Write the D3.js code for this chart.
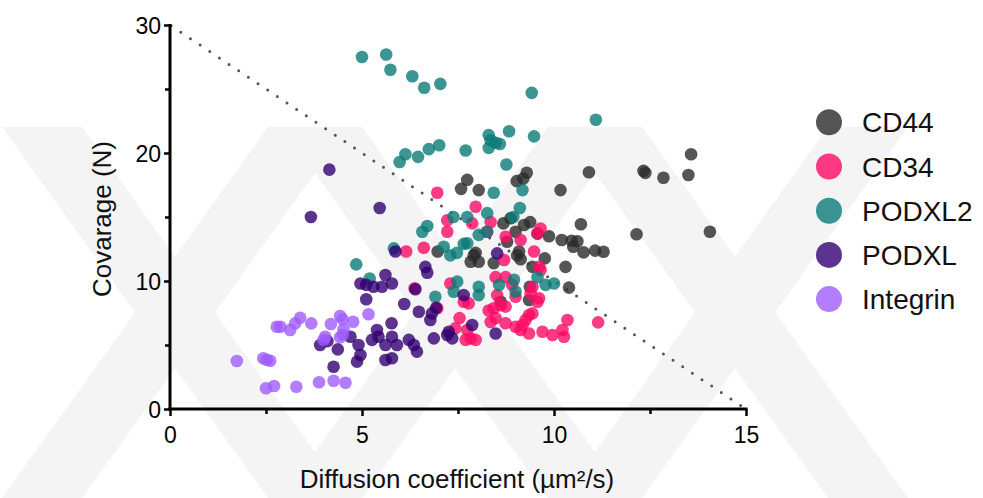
<!DOCTYPE html>
<html>
<head>
<meta charset="utf-8">
<script src="https://cdn.jsdelivr.net/npm/d3@7"></script>
<style>
  html, body { margin: 0; padding: 0; background: #fff; }
  svg { display: block; font-family: Arial, "Liberation Sans", sans-serif; }
</style>
</head>
<body>
<svg id="chart" width="983" height="498"></svg>
<script>
// ---- data ----
var seriesNames = ["CD44", "CD34", "PODXL2", "PODXL", "Integrin"];
var seriesColors = ["#2b2b2b", "#ff0a64", "#0a7b77", "#330072", "#a05cff"];

var cd44 = [[13.57,19.9],[12.33,18.6],[12.38,18.45],[12.85,18.07],[13.5,18.28],[10.91,18.5],[10.17,17.1],
  [9.29,18.46],[9.2,18.0],[9.03,17.8],[7.74,17.9],[7.58,17.2],[8.04,17.1],
  [14.06,13.85],[12.15,13.65],[10.7,14.43],[9.87,13.5],[10.2,13.2],[10.46,13.15],[10.61,13.1],[10.5,12.68],
  [10.77,12.24],[11.07,12.37],[11.29,12.29],[10.3,11.1],[10.39,9.48],[9.76,11.77],
  [9.37,9.55],[9.35,8.52],[8.61,8.38],[9.57,13.7],[9.22,14.37],[8.87,14.9],[8.68,14.5],[9.0,13.85],[8.78,13.07],
  [7.96,12.2],[7.91,12.0],[7.83,11.5],[8.04,11.5],[8.43,11.4],[9.09,12.3],[9.13,11.7],[9.44,11.1],[9.04,12.0],
  [6.97,12.3],[9.38,14.6]];

var cd34 = [[6.96,16.9],[7.96,15.8],[7.22,14.74],[7.22,13.85],[8.35,14.6],[7.87,14.5],[8.26,13.85],[8.74,13.46],
  [9.13,13.2],[9.65,14.1],[9.57,13.72],[9.48,12.3],[8.7,11.64],
  [6.61,12.6],[6.15,12.3],[6.37,9.43],[7.3,9.8],[6.96,7.87],[7.54,7.1],[7.43,6.3],[7.7,5.4],[7.65,8.38],[7.78,8.25],
  [8.48,10.3],[8.74,10.3],[8.52,8.9],[8.61,8.1],[8.3,7.7],[8.48,7.1],[7.74,6.17],[7.83,5.52],[7.96,5.4],
  [8.35,6.8],[8.74,6.7],[9.0,6.43],[9.13,6.17],[9.35,5.9],[9.7,6.04],[9.96,5.78],[10.26,5.65],[10.35,6.95],
  [10.22,6.17],[9.26,6.95],[9.35,7.34],[9.44,7.47],[9.39,9.04],[9.61,8.65],[9.57,8.38],[8.91,9.7],[9.61,11.1],
  [9.65,10.86],[9.44,9.55],[8.43,7.87],[8.74,8.0],[9.0,8.77],[11.15,6.77],[9.18,6.56]];

var podxl2 = [[5.0,27.5],[5.63,27.7],[5.74,26.5],[6.31,26.0],[6.62,25.1],[7.04,25.4],
  [9.42,24.7],[11.09,22.6],
  [5.98,19.3],[6.13,19.9],[6.46,19.7],[6.74,20.3],[7.01,20.6],[7.7,20.2],
  [8.3,21.4],[8.35,21.0],[8.48,20.8],[8.59,20.7],[8.3,20.4],[8.83,21.7],[9.48,21.3],
  [8.76,19.1],[9.18,17.1],[8.43,16.9],[9.11,15.7],[8.26,15.3],[7.38,15.0],[7.74,15.0],[8.94,15.0],
  [6.7,14.3],[6.57,13.85],[5.83,12.55],[4.85,11.3],[5.2,10.2],
  [7.13,12.68],[7.3,12.0],[7.47,12.2],[7.65,12.9],[7.74,12.95],[8.04,13.6],[8.26,13.85],
  [7.48,9.95],[7.39,9.16],[8.04,9.55],[8.04,8.9],[8.57,9.7],[8.96,10.1],[9.0,9.16],[9.57,10.3],[9.78,9.7],[10.0,9.8],
  [6.91,8.77]];

var podxl = [[4.15,18.7],[3.67,15.0],[5.46,15.7],
  [5.87,12.3],[4.96,9.8],[5.11,9.7],[5.3,9.55],[5.52,9.55],[5.61,10.47],[5.78,9.8],[5.11,8.57],[6.1,8.2],
  [6.65,11.1],[6.7,10.65],[6.39,9.35],[6.48,7.6],[6.82,7.47],[6.78,6.95],[6.93,7.9],
  [5.77,6.7],[5.39,6.17],[5.26,5.4],[5.43,5.65],[5.78,5.65],[5.61,5.0],[5.91,5.0],[6.22,5.4],[6.35,5.0],
  [6.43,4.48],[4.91,5.0],[5.61,3.83],[5.78,3.96],[4.96,4.22],[4.87,3.7],[4.26,3.3],[4.37,4.66],[3.91,5.0],
  [4.7,5.65],[4.1,5.3],
  [6.87,5.52],[7.22,5.78],[7.35,5.52],[7.65,8.9],
  [8.52,12.16],[7.87,6.56],[7.26,6.04],[8.48,5.9]];

var integrin = [[1.74,3.75],[2.43,3.96],[2.52,3.85],[2.61,3.77],[2.5,1.62],[2.71,1.8],[3.29,1.74],[3.88,2.09],
  [4.26,2.21],[4.57,2.05],
  [2.78,6.43],[2.87,6.43],[3.13,6.17],[3.26,6.69],[3.39,7.13],[3.68,6.69],[4.19,6.64],[4.43,7.27],[4.5,7.0],
  [4.77,6.82],[4.52,6.23],[4.04,5.65],[4.0,5.4],[4.43,5.6],[4.5,5.8],[5.17,7.4]];

var seriesData = [cd44, cd34, podxl2, podxl, integrin];

var xTicks = [0, 5, 10, 15];
var xMinor = [2.5, 7.5, 12.5];
var yTicks = [0, 10, 20, 30];
var yMinor = [5, 15, 25];
var refLine = [[0, 30], [15, 0]];

// ---- layout ----
var svg = d3.select("#chart");
var x = d3.scaleLinear().domain([0, 15]).range([170, 746]);
var y = d3.scaleLinear().domain([0, 30]).range([409, 25]);

// watermark (very faint background crosses)
var wm = svg.append("g").attr("fill", "#f4f4f4");
[175, 455, 735].forEach(function(cx) {
  var top = 127, bot = 498, half = 133, w = 40;
  wm.append("path").attr("d",
    "M" + (cx - half - w) + "," + top + "L" + (cx - half + w) + "," + top +
    "L" + (cx + half + w) + "," + bot + "L" + (cx + half - w) + "," + bot + "Z");
  wm.append("path").attr("d",
    "M" + (cx + half - w) + "," + top + "L" + (cx + half + w) + "," + top +
    "L" + (cx - half + w) + "," + bot + "L" + (cx - half - w) + "," + bot + "Z");
});

// dotted reference line
svg.append("path")
  .datum(refLine)
  .attr("d", d3.line().x(function(d){ return x(d[0]); }).y(function(d){ return y(d[1]); }))
  .attr("fill", "none")
  .attr("stroke", "#555")
  .attr("stroke-width", 3)
  .attr("stroke-linecap", "round")
  .attr("stroke-dasharray", "0 11.6")
  .attr("stroke-dashoffset", -13);

// points
seriesData.forEach(function(data, i) {
  svg.append("g").selectAll("circle")
    .data(data).enter().append("circle")
    .attr("cx", function(d){ return x(d[0]); })
    .attr("cy", function(d){ return y(d[1]); })
    .attr("r", 6.3)
    .attr("fill", seriesColors[i])
    .attr("fill-opacity", 0.8);
});

// axes
var xAxis = svg.append("g").attr("transform", "translate(0,409)")
  .call(d3.axisBottom(x).tickValues(xTicks).tickSize(7).tickFormat(d3.format("d")));
svg.append("g").attr("transform", "translate(0,409)")
  .call(d3.axisBottom(x).tickValues(xMinor).tickSize(5).tickFormat(""))
  .select(".domain").remove();
var yAxis = svg.append("g").attr("transform", "translate(170,0)")
  .call(d3.axisLeft(y).tickValues(yTicks).tickSize(6).tickFormat(d3.format("d")));
svg.append("g").attr("transform", "translate(170,0)")
  .call(d3.axisLeft(y).tickValues(yMinor).tickSize(5).tickFormat(""))
  .select(".domain").remove();

svg.selectAll(".tick line").attr("stroke", "#000").attr("stroke-width", 2.5);
xAxis.selectAll(".tick text").attr("font-size", 23).attr("fill", "#000").attr("dy", "1.05em");
yAxis.selectAll(".tick text").attr("font-size", 23).attr("fill", "#000").attr("x", -9).attr("dy", "0.36em");
// spines drawn separately so they meet at the corner
xAxis.select(".domain").remove();
yAxis.select(".domain").remove();
svg.append("line").attr("x1", x(0) - 1.5).attr("x2", x(15) + 1.5).attr("y1", y(0)).attr("y2", y(0))
  .attr("stroke", "#000").attr("stroke-width", 3);
svg.append("line").attr("x1", x(0)).attr("x2", x(0)).attr("y1", y(30) - 1).attr("y2", y(0) + 1.5)
  .attr("stroke", "#000").attr("stroke-width", 3);

// axis titles
svg.append("text").attr("x", 457).attr("y", 488).attr("text-anchor", "middle")
  .attr("font-size", 26).attr("fill", "#111").text("Diffusion coefficient (µm²/s)");
svg.append("text").attr("transform", "translate(111,219) rotate(-90)").attr("text-anchor", "middle")
  .attr("font-size", 26).attr("fill", "#111").text("Covarage (N)");

// legend
var legend = svg.append("g").selectAll("g").data(seriesNames).enter().append("g")
  .attr("transform", function(d, i){ return "translate(829," + (122.3 + i * 44.2) + ")"; });
legend.append("circle").attr("r", 13)
  .attr("fill", function(d, i){ return seriesColors[i]; }).attr("fill-opacity", 0.8);
legend.append("text").attr("x", 33).attr("y", 10).attr("font-size", 28).attr("fill", "#111")
  .text(function(d){ return d; });
</script>
</body>
</html>
